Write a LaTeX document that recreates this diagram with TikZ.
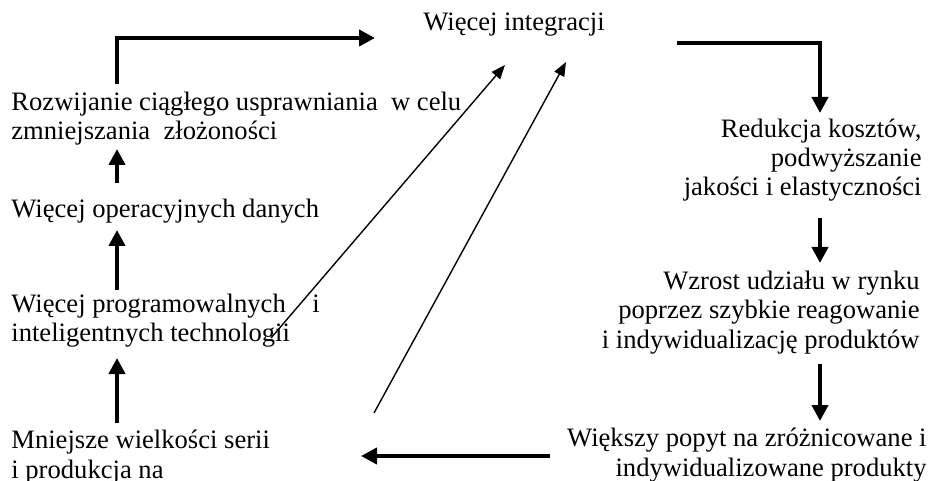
\documentclass[tikz,border=0pt]{standalone}
\usepackage{fontspec}
\setmainfont{Liberation Serif}
\usetikzlibrary{arrows.meta}
\begin{document}
\begin{tikzpicture}[x=0.5pt,y=-0.5pt,
  txt/.style={inner sep=0pt,font=\fontsize{13.3}{14.6}\selectfont},
  thickarr/.style={line width=2pt,-{Triangle[length=8pt,width=8pt]}},
  thinarr/.style={line width=0.7pt,-{Triangle[length=7pt,width=5.5pt]}}]
\useasboundingbox (0,0) rectangle (933,481);
% nodes (multi-line nodes are anchored at the baseline of their last line)
\node[txt,anchor=base] (int) at (514,31) {Więcej integracji};
\node[txt,anchor=base west,align=left] (roz) at (11,140) {Rozwijanie ciągłego usprawniania\ \ w celu\\zmniejszania\ \ złożoności};
\node[txt,anchor=base west] (ope) at (11,218) {Więcej operacyjnych danych};
\node[txt,anchor=base west,align=left] (prog) at (11,342) {Więcej programowalnych\ \ \ \ i\\inteligentnych technologii};
\node[txt,anchor=base west,align=left] (mn) at (11,478) {Mniejsze wielkości serii\\i produkcja na};
\node[txt,anchor=base east,align=right] (red) at (922,196) {Redukcja kosztów,\\podwyższanie\ \\jakości i elastyczności};
\node[txt,anchor=base east,align=right] (wz) at (920,348) {Wzrost udziału w rynku\\poprzez szybkie reagowanie\\i indywidualizację produktów};
\node[txt,anchor=base east,align=right] (wie) at (927,476) {Większy popyt na zróżnicowane i\\indywidualizowane produkty};
% arrow end points
\coordinate (a1s) at (117,84);   \coordinate (a1e) at (375,38);
\coordinate (a2s) at (117,183);  \coordinate (a2e) at (117,149);
\coordinate (a3s) at (117,290);  \coordinate (a3e) at (117,230);
\coordinate (a4s) at (117,423);  \coordinate (a4e) at (117,358);
\coordinate (a5s) at (271,338);  \coordinate (a5e) at (505,65);
\coordinate (a6s) at (374,413);  \coordinate (a6e) at (566,62);
\coordinate (a7s) at (677,43);   \coordinate (a7e) at (820,113);
\coordinate (a8s) at (820,218);  \coordinate (a8e) at (820,263);
\coordinate (a9s) at (820,364);  \coordinate (a9e) at (820,421);
\coordinate (a10s) at (550,456); \coordinate (a10e) at (361,456);
% connectors
\draw[thickarr] (a1s) |- (a1e);
\draw[thickarr] (a2s) -- (a2e);
\draw[thickarr] (a3s) -- (a3e);
\draw[thickarr] (a4s) -- (a4e);
\draw[thinarr] (a5s) -- (a5e);
\draw[thinarr] (a6s) -- (a6e);
\draw[thickarr] (a7s) -| (a7e);
\draw[thickarr] (a8s) -- (a8e);
\draw[thickarr] (a9s) -- (a9e);
\draw[thickarr] (a10s) -- (a10e);
\end{tikzpicture}
\end{document}
